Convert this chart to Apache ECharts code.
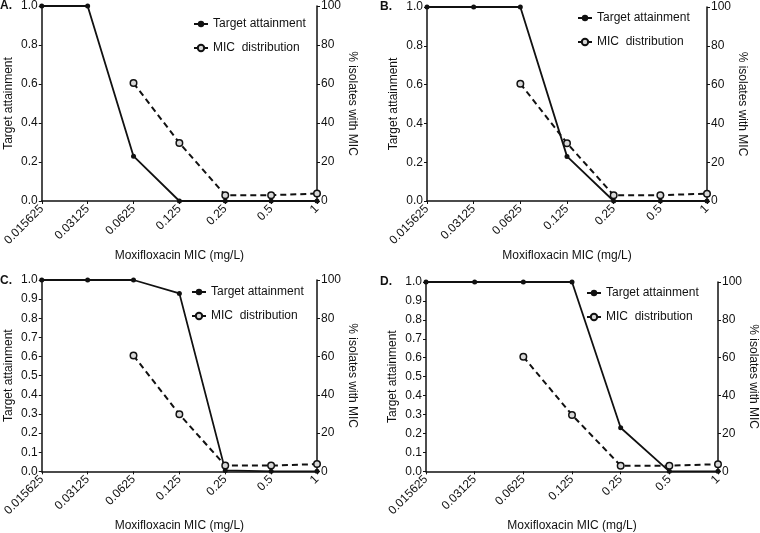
<!DOCTYPE html>
<html>
<head>
<meta charset="utf-8">
<script src="https://cdn.jsdelivr.net/npm/echarts@6/dist/echarts.min.js"></script>
<style>
html,body{margin:0;padding:0;background:#fff;}
#c{width:760px;height:533px;}
</style>
</head>
<body>
<div id="c"></div>
<script>
const categories = ['0.015625','0.03125','0.0625','0.125','0.25','0.5','1'];
const targetA = [1, 1, 0.23, 0, 0, 0, 0];
const targetB = [1, 1, 1, 0.23, 0, 0, 0];
const targetC = [1, 1, 1, 0.93, 0.005, 0, 0];
const targetD = [1, 1, 1, 1, 0.23, 0, 0];
const micDist = [null, null, 60.5, 29.8, 3, 3, 3.8];
const panelLabels = ['A.', 'B.', 'C.', 'D.'];
const leftIntervals = [0.2, 0.2, 0.1, 0.1];
const xTitle = 'Moxifloxacin MIC (mg/L)';
const leftTitle = 'Target attainment';
const rightTitle = '% isolates with MIC';
const nameTarget = 'Target attainment';
const nameMic = 'MIC  distribution';

const targets = [targetA, targetB, targetC, targetD];
const grids = [
  {left: 36, top: 5, width: 281, height: 196},
  {left: 427, top: 7, width: 280, height: 194},
  {left: 36, top: 280, width: 281, height: 198},
  {left: 426, top: 282, width: 292, height: 195}
];
const legendPos = [
  {left: 188, top: 13},
  {left: 572, top: 7},
  {left: 186, top: 281},
  {left: 581, top: 282}
];
const labelPos = [[0, 0], [380, 1], [0, 275], [380, 276]];

const ink = '#111';
const font = 'Liberation Sans, Arial, sans-serif';

const option = {
  animation: false,
  backgroundColor: '#fff',
  textStyle: {fontFamily: font},
  grid: grids.map(g => Object.assign({containLabel: false}, g)),
  legend: grids.map((g, i) => ({
    left: legendPos[i].left, top: legendPos[i].top,
    orient: 'vertical', itemGap: 12, itemWidth: 14, itemHeight: 8,
    textStyle: {fontSize: 12, color: ink, fontFamily: font},
    data: [
      {name: nameTarget},
      {name: nameMic}
    ]
  })),
  xAxis: grids.map((g, i) => ({
    type: 'category', gridIndex: i, data: categories, boundaryGap: false,
    name: xTitle, nameLocation: 'middle', nameGap: 44,
    nameTextStyle: {fontSize: 12, color: ink},
    axisLine: {lineStyle: {color: ink, width: 1.5}},
    axisTick: {show: true, length: 3, lineStyle: {color: ink}},
    axisLabel: {rotate: 45, fontSize: 12, color: ink, margin: 6, interval: 0}
  })),
  yAxis: [].concat(...grids.map((g, i) => ([
    {
      type: 'value', gridIndex: i, min: 0, max: 1, interval: leftIntervals[i], position: 'left',
      name: leftTitle, nameLocation: 'middle', nameGap: 27,
      nameTextStyle: {fontSize: 12, color: ink},
      axisLine: {show: true, lineStyle: {color: ink, width: 1.5}},
      axisTick: {show: true, length: 3, lineStyle: {color: ink}},
      axisLabel: {fontSize: 12, color: ink, margin: 4, formatter: v => v.toFixed(1)},
      splitLine: {show: false}
    },
    {
      type: 'value', gridIndex: i, min: 0, max: 100, interval: 20, position: 'right',
      name: rightTitle, nameLocation: 'middle', nameGap: 29, nameRotate: -90,
      nameTextStyle: {fontSize: 12, color: ink},
      axisLine: {show: true, lineStyle: {color: ink, width: 1.5}},
      axisTick: {show: true, length: 3, lineStyle: {color: ink}},
      axisLabel: {fontSize: 12, color: ink, margin: 4},
      splitLine: {show: false}
    }
  ]))),
  series: [].concat(...grids.map((g, i) => ([
    {
      name: nameTarget, type: 'line', xAxisIndex: i, yAxisIndex: 2 * i,
      data: targets[i], symbol: 'circle', symbolSize: 5,
      lineStyle: {color: ink, width: 1.8},
      itemStyle: {color: ink}
    },
    {
      name: nameMic, type: 'line', xAxisIndex: i, yAxisIndex: 2 * i + 1,
      data: micDist, symbol: 'circle', symbolSize: 6.5, connectNulls: false,
      lineStyle: {color: ink, width: 2, type: [6, 4]},
      itemStyle: {color: '#d8d8d8', borderColor: ink, borderWidth: 1.5}
    }
  ]))),
  graphic: panelLabels.map((t, i) => ({
    type: 'text', left: labelPos[i][0], top: labelPos[i][1],
    style: {text: t, font: 'bold 12px ' + font, fill: ink}
  }))
};

const chart = echarts.init(document.getElementById('c'), null, {renderer: 'canvas'});
chart.setOption(option);
</script>
</body>
</html>
